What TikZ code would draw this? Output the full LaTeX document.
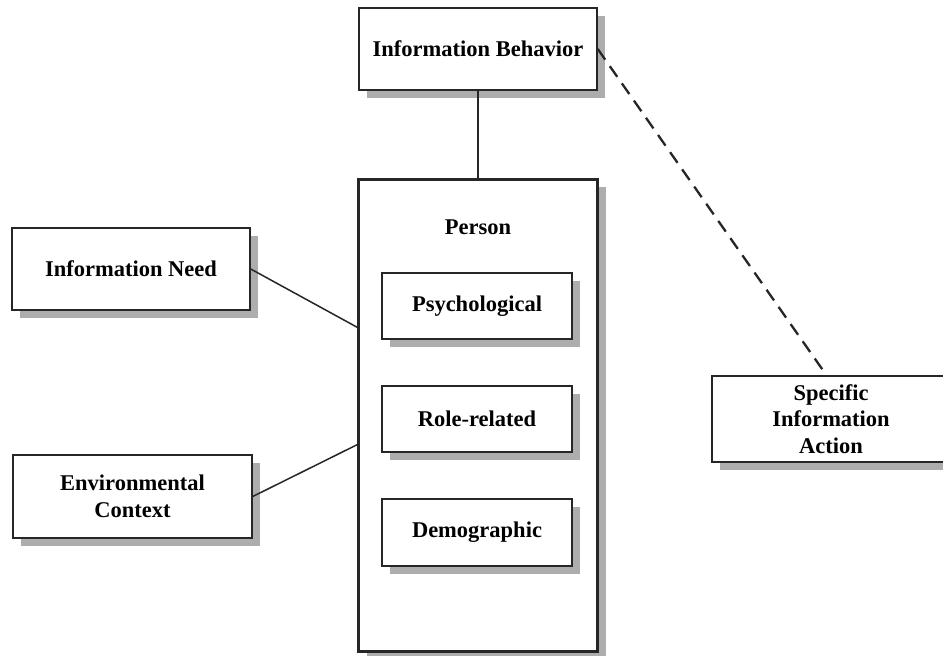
\documentclass[tikz,border=0pt]{standalone}
\usepackage{fontspec}
\setmainfont{Liberation Serif}
\usetikzlibrary{shadows}
\tikzset{
  box/.style={draw=black!85, line width=1.5pt, fill=white, rectangle, align=center,
    inner sep=0pt, font=\bfseries\fontsize{22.5}{26.5}\selectfont,
    drop shadow={shadow xshift=8pt, shadow yshift=-8pt, fill=black!32, opacity=1}},
  bigbox/.style={box, line width=3pt},
  conn/.style={draw=black!85, line width=1.5pt},
  dashconn/.style={draw=black!85, line width=2.3pt, dash pattern=on 13pt off 8pt},
}
\begin{document}
\begin{tikzpicture}[x=1pt,y=-1pt]
\useasboundingbox (0,0) rectangle (943,656);
\clip (0,0) rectangle (943,656);
\node[box, minimum width=238pt, minimum height=82pt] (ib) at (478,49) {Information Behavior};
\node[box, minimum width=238pt, minimum height=82pt] (in) at (131,269) {Information Need};
\node[box, minimum width=239pt, minimum height=83pt] (ec) at (132.5,496.5) {Environmental\\Context};
\node[bigbox, minimum width=239pt, minimum height=472pt] (p) at (478,415) {};
\node[font=\bfseries\fontsize{22.5}{26}\selectfont] (pt) at (478,227) {Person};
\node[box, minimum width=190pt, minimum height=66pt] (ps) at (477,306) {Psychological};
\node[box, minimum width=190pt, minimum height=66pt] (rr) at (477,419) {Role-related};
\node[box, minimum width=190pt, minimum height=67pt] (dm) at (477,532.5) {Demographic};
\node[box, minimum width=238pt, minimum height=86pt] (sia) at (831,419) {Specific\\Information\\Action};
\coordinate (pin) at (358.5,328);
\coordinate (pec) at (358.5,444);
\coordinate (sian) at (827,376);
\draw[conn] (ib.south) -- (p.north);
\draw[conn] (in.east) -- (pin);
\draw[conn] (ec.east) -- (pec);
\draw[dashconn] (ib.east) -- (sian);
\end{tikzpicture}
\end{document}
